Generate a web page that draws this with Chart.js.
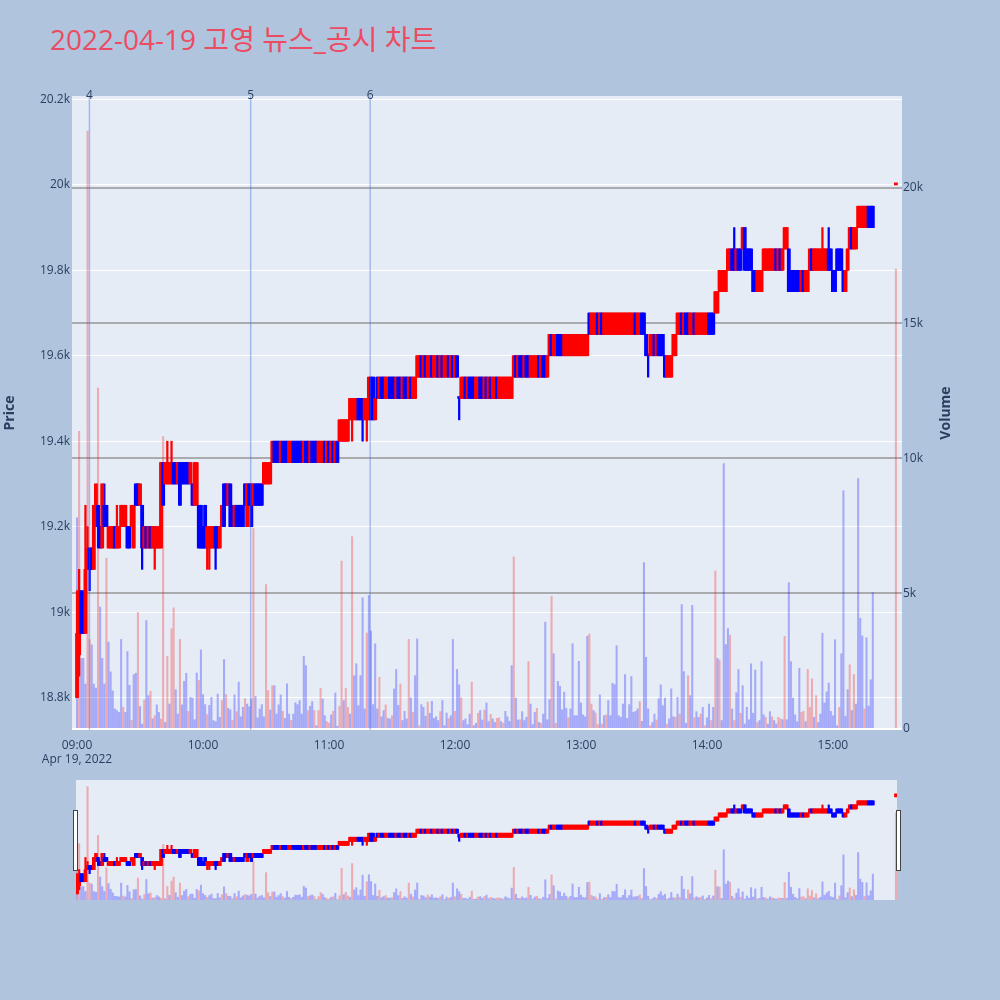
<!DOCTYPE html>
<html>
<head>
<meta charset="utf-8">
<script src="https://cdn.jsdelivr.net/npm/chart.js"></script>
<style>
  html, body { margin: 0; padding: 0; background: #b0c4de; }
  body { width: 1000px; height: 1000px; position: relative; overflow: hidden; font-family: "Open Sans", "Noto Sans CJK KR", sans-serif; }
  #title { position: absolute; left: 50px; top: 25px; font-size: 28px; line-height: 28px; color: #ec4c62; white-space: nowrap; }
  #main { position: absolute; left: 0; top: 0; width: 1000px; height: 775px; }
  #slider { position: absolute; left: 76px; top: 780px; width: 821px; height: 120px; background: #e5ecf6; }
  .handle { position: absolute; top: 810px; width: 5px; height: 61px; box-sizing: border-box; background: #fff; border: 1px solid #444; }
</style>
</head>
<body>
<div id="title">2022-04-19 고영 뉴스_공시 차트</div>
<div id="main"><canvas id="mainChart"></canvas></div>
<div id="slider"><canvas id="sliderChart"></canvas></div>
<div class="handle" style="left:73px"></div>
<div class="handle" style="left:896px"></div>
<script>
// one candle per minute from 09:00, last entry is the 15:30 closing auction
const sessionStart = '09:00';
const auctionTime = '15:30';
const dateLabel = 'Apr 19, 2022';

const timeTicks = ['09:00', '10:00', '11:00', '12:00', '13:00', '14:00', '15:00'];
const priceTicks = [18800, 19000, 19200, 19400, 19600, 19800, 20000, 20200];
const volumeTicks = [0, 5000, 10000, 15000, 20000];

const opens = [
  18800,18900,19050,19000,18950,19100,19150,19150,19100,19200,
  19250,19200,19150,19250,19250,19150,19150,19150,19200,19150,
  19150,19200,19200,19200,19200,19200,19200,19150,19300,19300,
  19250,19250,19150,19200,19150,19200,19150,19150,19150,19150,
  19150,19350,19300,19300,19300,19300,19350,19350,19300,19350,
  19350,19350,19350,19350,19300,19300,19250,19250,19250,19250,
  19200,19250,19150,19150,19150,19150,19200,19200,19150,19200,
  19300,19300,19250,19300,19250,19200,19250,19250,19250,19250,
  19300,19200,19300,19300,19250,19300,19300,19300,19300,19300,
  19300,19300,19300,19350,19400,19400,19400,19350,19400,19400,
  19400,19350,19350,19400,19400,19400,19400,19400,19350,19400,
  19400,19350,19400,19400,19400,19350,19350,19350,19400,19350,
  19400,19350,19400,19350,19400,19400,19400,19400,19400,19400,
  19450,19450,19450,19450,19500,19500,19500,19450,19450,19450,
  19550,19550,19450,19550,19500,19550,19550,19500,19500,19550,
  19550,19550,19500,19550,19550,19500,19550,19550,19500,19550,
  19500,19500,19550,19550,19600,19550,19600,19550,19550,19600,
  19550,19550,19600,19550,19600,19550,19550,19600,19550,19600,
  19550,19600,19500,19500,19500,19550,19500,19550,19550,19550,
  19500,19500,19550,19550,19500,19550,19500,19550,19500,19500,
  19550,19500,19500,19500,19500,19500,19500,19500,19550,19600,
  19550,19600,19600,19550,19600,19600,19550,19550,19550,19550,
  19600,19550,19600,19600,19550,19600,19650,19600,19600,19650,
  19650,19650,19600,19600,19600,19600,19600,19600,19600,19600,
  19600,19600,19600,19600,19700,19650,19650,19650,19700,19650,
  19700,19650,19650,19650,19650,19650,19650,19650,19650,19650,
  19650,19650,19650,19650,19650,19650,19700,19650,19650,19700,
  19700,19650,19600,19600,19600,19650,19600,19650,19650,19650,
  19600,19550,19550,19550,19600,19600,19650,19650,19700,19650,
  19700,19700,19650,19650,19700,19650,19650,19650,19650,19650,
  19650,19700,19700,19700,19700,19700,19750,19750,19750,19750,
  19800,19800,19850,19850,19800,19850,19850,19850,19900,19850,
  19850,19850,19800,19800,19750,19750,19750,19800,19800,19800,
  19800,19800,19800,19850,19800,19850,19800,19850,19850,19850,
  19800,19800,19800,19800,19800,19750,19800,19750,19750,19800,
  19850,19800,19800,19800,19800,19800,19800,19800,19850,19850,
  19800,19800,19850,19850,19850,19800,19750,19800,19850,19900,
  19850,19850,19900,19900,19900,19900,19900,19950,19950,19950,
  20000
];

const highs = [
  19050,19100,19050,19050,19250,19200,19150,19150,19250,19300,
  19250,19200,19300,19300,19250,19200,19200,19200,19200,19250,
  19200,19250,19250,19250,19200,19200,19250,19250,19300,19300,
  19300,19250,19200,19200,19200,19200,19200,19200,19200,19200,
  19350,19350,19350,19400,19350,19400,19350,19350,19350,19350,
  19350,19350,19350,19350,19350,19300,19350,19350,19250,19250,
  19200,19250,19200,19200,19200,19200,19200,19200,19200,19250,
  19300,19300,19300,19300,19250,19250,19250,19250,19250,19250,
  19300,19300,19300,19300,19300,19300,19300,19300,19300,19350,
  19350,19350,19350,19400,19400,19400,19400,19400,19400,19400,
  19400,19400,19400,19400,19400,19400,19400,19400,19400,19400,
  19400,19400,19400,19400,19400,19400,19400,19400,19400,19400,
  19400,19400,19400,19400,19400,19450,19450,19450,19450,19450,
  19500,19500,19500,19500,19500,19500,19500,19500,19500,19550,
  19550,19550,19500,19550,19550,19550,19550,19550,19550,19550,
  19550,19550,19550,19550,19550,19550,19550,19550,19550,19550,
  19550,19550,19600,19600,19600,19600,19600,19600,19600,19600,
  19600,19600,19600,19600,19600,19600,19600,19600,19600,19600,
  19600,19600,19500,19550,19550,19550,19550,19550,19550,19550,
  19550,19550,19550,19550,19550,19550,19550,19550,19550,19550,
  19550,19550,19550,19550,19550,19550,19550,19550,19600,19600,
  19600,19600,19600,19600,19600,19600,19600,19600,19600,19600,
  19600,19600,19600,19600,19600,19650,19650,19650,19650,19650,
  19650,19650,19650,19650,19650,19650,19650,19650,19650,19650,
  19650,19650,19650,19650,19700,19700,19700,19700,19700,19700,
  19700,19700,19700,19700,19700,19700,19700,19700,19700,19700,
  19700,19700,19700,19700,19700,19700,19700,19700,19700,19700,
  19700,19650,19600,19650,19650,19650,19650,19650,19650,19650,
  19600,19600,19600,19600,19650,19650,19700,19700,19700,19700,
  19700,19700,19700,19700,19700,19700,19700,19700,19700,19700,
  19700,19700,19700,19700,19750,19750,19800,19800,19800,19800,
  19850,19850,19850,19900,19850,19850,19850,19900,19900,19850,
  19850,19850,19800,19800,19800,19800,19800,19850,19850,19850,
  19850,19850,19850,19850,19850,19850,19850,19900,19900,19850,
  19800,19800,19800,19800,19800,19800,19800,19800,19800,19850,
  19850,19850,19850,19850,19850,19900,19850,19850,19900,19850,
  19800,19800,19850,19850,19850,19800,19800,19850,19900,19900,
  19900,19900,19950,19950,19950,19950,19950,19950,19950,19950,
  20000
];

const lows = [
  18800,18850,18950,18950,18950,19100,19050,19100,19100,19200,
  19150,19150,19150,19200,19200,19150,19150,19150,19150,19150,
  19150,19200,19200,19200,19150,19150,19200,19150,19250,19250,
  19250,19100,19150,19150,19150,19150,19150,19100,19150,19150,
  19150,19250,19300,19300,19300,19300,19300,19300,19300,19250,
  19300,19300,19300,19300,19300,19250,19250,19250,19150,19150,
  19150,19150,19100,19100,19150,19150,19100,19150,19150,19200,
  19200,19250,19250,19200,19200,19200,19200,19200,19200,19200,
  19250,19200,19250,19200,19250,19250,19250,19250,19250,19300,
  19300,19300,19300,19350,19350,19350,19350,19350,19350,19350,
  19350,19350,19350,19350,19350,19350,19350,19350,19350,19350,
  19350,19350,19350,19350,19350,19350,19350,19350,19350,19350,
  19350,19350,19350,19350,19350,19400,19400,19400,19400,19400,
  19450,19400,19450,19450,19450,19450,19400,19450,19400,19450,
  19450,19450,19450,19500,19500,19500,19500,19500,19500,19500,
  19500,19500,19500,19500,19500,19500,19500,19500,19500,19500,
  19500,19500,19550,19550,19550,19550,19550,19550,19550,19550,
  19550,19550,19550,19550,19550,19550,19550,19550,19550,19550,
  19550,19550,19450,19500,19500,19500,19500,19500,19500,19500,
  19500,19500,19500,19500,19500,19500,19500,19500,19500,19500,
  19500,19500,19500,19500,19500,19500,19500,19500,19550,19550,
  19550,19550,19550,19550,19550,19550,19550,19550,19550,19550,
  19550,19550,19550,19550,19550,19600,19600,19600,19600,19600,
  19600,19600,19600,19600,19600,19600,19600,19600,19600,19600,
  19600,19600,19600,19600,19650,19650,19650,19650,19650,19650,
  19650,19650,19650,19650,19650,19650,19650,19650,19650,19650,
  19650,19650,19650,19650,19650,19650,19650,19650,19650,19650,
  19650,19600,19550,19600,19600,19600,19600,19600,19600,19600,
  19550,19550,19550,19550,19600,19600,19650,19650,19650,19650,
  19650,19650,19650,19650,19650,19650,19650,19650,19650,19650,
  19650,19650,19650,19650,19700,19700,19750,19750,19750,19750,
  19800,19800,19800,19800,19800,19800,19800,19850,19800,19800,
  19800,19800,19750,19750,19750,19750,19750,19800,19800,19800,
  19800,19800,19800,19800,19800,19800,19800,19850,19850,19750,
  19750,19750,19750,19750,19750,19750,19750,19750,19750,19800,
  19800,19800,19800,19800,19800,19800,19800,19800,19800,19800,
  19750,19750,19800,19800,19800,19750,19750,19800,19850,19850,
  19850,19850,19900,19900,19900,19900,19900,19900,19900,19900,
  20000
];

const closes = [
  18950,19050,18950,18950,19100,19150,19100,19100,19250,19300,
  19200,19150,19300,19200,19200,19200,19200,19200,19150,19200,
  19200,19250,19250,19250,19150,19150,19250,19250,19250,19250,
  19300,19150,19200,19150,19200,19150,19200,19200,19200,19200,
  19350,19250,19350,19350,19350,19350,19300,19300,19350,19250,
  19300,19300,19300,19300,19350,19250,19350,19350,19150,19150,
  19150,19150,19200,19200,19200,19200,19150,19150,19200,19250,
  19200,19250,19300,19200,19200,19250,19200,19200,19200,19200,
  19250,19300,19250,19200,19300,19250,19250,19250,19250,19350,
  19350,19350,19350,19400,19350,19350,19350,19400,19350,19350,
  19350,19400,19400,19350,19350,19350,19350,19350,19400,19350,
  19350,19400,19350,19350,19350,19400,19400,19400,19350,19400,
  19350,19400,19350,19400,19350,19450,19450,19450,19450,19450,
  19500,19500,19500,19500,19450,19450,19450,19500,19500,19550,
  19450,19450,19500,19500,19550,19500,19500,19550,19550,19500,
  19500,19500,19550,19500,19500,19550,19500,19500,19550,19500,
  19550,19550,19600,19600,19550,19600,19550,19600,19600,19550,
  19600,19600,19550,19600,19550,19600,19600,19550,19600,19550,
  19600,19550,19500,19550,19550,19500,19550,19500,19500,19500,
  19550,19550,19500,19500,19550,19500,19550,19500,19550,19550,
  19500,19550,19550,19550,19550,19550,19550,19550,19600,19550,
  19600,19550,19550,19600,19550,19550,19600,19600,19600,19600,
  19550,19600,19550,19550,19600,19650,19600,19650,19650,19600,
  19600,19600,19650,19650,19650,19650,19650,19650,19650,19650,
  19650,19650,19650,19650,19650,19700,19700,19700,19650,19700,
  19650,19700,19700,19700,19700,19700,19700,19700,19700,19700,
  19700,19700,19700,19700,19700,19700,19650,19700,19700,19650,
  19650,19600,19600,19650,19650,19600,19650,19600,19600,19600,
  19550,19600,19600,19600,19650,19650,19700,19700,19650,19700,
  19650,19650,19700,19700,19650,19700,19700,19700,19700,19700,
  19700,19650,19650,19650,19750,19750,19800,19800,19800,19800,
  19850,19850,19800,19800,19850,19800,19800,19900,19800,19800,
  19800,19800,19750,19750,19800,19800,19800,19850,19850,19850,
  19850,19850,19850,19800,19850,19800,19850,19900,19900,19750,
  19750,19750,19750,19750,19750,19800,19750,19800,19800,19850,
  19800,19850,19850,19850,19850,19850,19850,19850,19800,19800,
  19750,19750,19800,19800,19800,19750,19800,19850,19900,19850,
  19900,19900,19950,19950,19950,19950,19950,19900,19900,19900,
  20000
];

const volumes = [
  7800,11000,2600,2600,1650,22100,3300,3100,1650,1500,
  12600,4500,2600,1650,6300,3200,2100,1400,730,670,
  600,3300,790,600,2850,1600,300,2000,2050,4300,
  820,170,1060,4000,1220,1380,360,480,880,600,
  360,10800,230,2670,910,3700,4470,1440,540,3300,
  880,1750,2050,640,1160,1130,330,2060,1780,2910,
  1260,890,520,860,1160,300,260,1280,420,1040,
  2560,1260,750,700,300,1250,630,1720,440,790,
  1110,910,810,1100,7400,1190,400,730,890,440,
  5330,1410,690,1590,1590,540,880,1250,640,380,
  1660,540,300,540,960,890,1040,540,2670,2330,
  670,830,1000,670,110,670,1490,1100,480,260,
  210,510,640,1320,90,830,6200,1040,1490,790,
  540,7100,1960,2400,850,1960,4840,730,3540,4930,
  3610,890,3140,730,1900,440,670,880,380,360,
  480,1470,2190,860,1650,300,640,360,3300,1140,
  600,1960,3320,110,890,790,460,980,570,1010,
  380,440,300,630,1040,110,580,380,480,3300,
  640,2190,1620,1140,300,360,150,540,1720,110,
  200,570,670,320,690,950,260,530,360,230,
  380,400,260,200,640,440,270,2330,6350,1130,
  320,330,630,300,420,2480,910,150,600,750,
  230,200,540,3940,330,1080,4900,2770,200,1750,
  1570,700,1350,750,400,730,3140,480,480,2490,
  950,510,440,3420,3500,910,670,580,150,1250,
  170,480,510,1040,480,1680,1630,3070,480,420,
  910,2000,380,890,1930,600,640,730,1000,270,
  6140,2640,730,110,230,540,320,1110,1620,850,
  1130,170,360,1470,440,420,1160,540,4590,2110,
  200,1960,1220,4560,400,630,420,540,790,110,
  400,910,300,790,5830,2600,2540,300,9800,3110,
  3700,3460,730,300,1330,2190,570,1590,170,790,
  330,2400,570,2170,230,300,2480,510,420,170,
  630,440,300,170,420,360,330,3420,330,5400,
  2480,1130,510,260,2230,600,640,260,2190,790,
  1840,420,1220,230,540,3530,950,1360,1690,640,
  480,3290,110,790,2770,8800,460,1440,2360,670,
  2000,910,9250,4080,3430,730,3360,830,1810,5030,
  17000
];

// 1 = red volume bar, 0 = blue
const volumeUp = [
  0,1,0,0,0,1,1,0,0,0, 1,0,0,0,1,0,0,0,0,0, 0,0,1,0,0,0,1,0,0,1, 0,0,1,0,0,1,0,1,0,0,
  1,1,0,1,0,1,1,0,0,1, 0,0,0,1,0,0,0,0,1,0, 0,0,1,0,0,0,0,0,0,1, 0,1,0,0,1,0,1,0,0,0,
  1,0,0,0,1,0,0,0,0,0, 1,1,0,1,0,0,0,0,1,0, 0,0,1,0,0,0,0,0,0,0, 1,0,0,1,0,1,1,0,0,1,
  1,0,1,0,0,1,1,0,1,1, 0,1,0,0,0,0,0,0,1,0, 0,0,0,0,1,0,0,1,0,0, 1,0,0,0,1,0,0,0,1,0,
  1,0,0,1,0,0,0,1,0,0, 0,0,0,1,0,0,0,1,0,0, 1,0,0,1,0,0,0,0,1,0, 0,1,0,0,1,0,0,1,0,0,
  1,1,0,1,0,0,0,0,1,0, 0,1,0,0,0,1,0,0,0,1, 0,1,0,0,0,0,1,0,1,0, 0,0,0,0,1,0,0,0,0,0,
  0,0,0,0,1,1,0,1,1,0, 1,0,1,0,0,0,0,0,0,0, 0,0,0,0,0,0,0,0,1,0, 0,0,0,1,0,0,1,0,0,0,
  0,1,0,0,0,1,0,1,0,0, 0,1,0,0,1,0,0,1,0,1, 0,0,1,0,1,0,1,0,0,0, 0,1,0,1,0,0,1,0,0,0,
  0,0,0,0,1,0,0,0,1,0, 0,1,0,0,1,1,0,1,0,0, 0,0,0,0,0,1,1,0,1,1, 1,0,1,0,0,0,0,0,0,0,
  0,0,0,1,0,0,0,0,1,0, 1,0,0,0,0,1,0,0,0,0,
  1
];

const newsTimes = ['09:05:54', '10:22:42', '11:19:36'];
const newsLabels = ['4', '5', '6'];

const upColor = '#ff0000';
const downColor = '#0000ff';
const fontFamily = '"Open Sans", "Noto Sans CJK KR", sans-serif';
const textColor = '#2a3f5f';

Chart.defaults.font.family = fontFamily;
Chart.defaults.font.size = 12;
Chart.defaults.color = textColor;

function toMinutes(t) {
  const p = t.split(':').map(Number);
  const s = sessionStart.split(':').map(Number);
  return (p[0] - s[0]) * 60 + (p[1] - s[1]) + (p[2] || 0) / 60;
}

function clock(m) {
  const s = sessionStart.split(':').map(Number);
  const total = s[0] * 60 + s[1] + m;
  return String(Math.floor(total / 60)).padStart(2, '0') + ':' + String(Math.round(total % 60)).padStart(2, '0');
}

const last = opens.length - 1;
const xs = opens.map((_, i) => i === last ? toMinutes(auctionTime) : i);

function rising(i) {
  if (closes[i] !== opens[i]) return closes[i] > opens[i];
  return i > 0 && closes[i] > closes[i - 1];
}
const candleColors = xs.map((_, i) => rising(i) ? upColor : downColor);
const volumeColors = volumeUp.map(u => u ? 'rgba(255,0,0,0.28)' : 'rgba(0,0,255,0.28)');

function buildDatasets(bodyWidth, wickWidth, volWidth, minBody) {
  return [
    {
      label: 'body',
      data: xs.map((x, i) => ({ x: x, y: [opens[i], closes[i]] })),
      backgroundColor: candleColors,
      barThickness: bodyWidth,
      minBarLength: minBody,
      grouped: false,
      yAxisID: 'y',
      order: 1
    },
    {
      label: 'wick',
      data: xs.map((x, i) => ({ x: x, y: [lows[i], highs[i]] })),
      backgroundColor: candleColors,
      barThickness: wickWidth,
      grouped: false,
      yAxisID: 'y',
      order: 2
    },
    {
      label: 'volume',
      data: xs.map((x, i) => ({ x: x, y: volumes[i] })),
      backgroundColor: volumeColors,
      barThickness: volWidth,
      grouped: false,
      yAxisID: 'y2',
      order: 3
    }
  ];
}

const plotBackground = {
  id: 'plotBackground',
  beforeDraw(chart) {
    const { ctx, chartArea: a } = chart;
    ctx.save();
    ctx.fillStyle = '#e5ecf6';
    ctx.fillRect(a.left, a.top, a.right - a.left, a.bottom - a.top);
    ctx.restore();
  }
};

const newsMarkers = {
  id: 'newsMarkers',
  afterDatasetsDraw(chart) {
    const { ctx, chartArea: a, scales } = chart;
    ctx.save();
    newsTimes.forEach((t, i) => {
      const px = scales.x.getPixelForValue(toMinutes(t));
      ctx.strokeStyle = 'rgba(65,105,225,0.4)';
      ctx.lineWidth = 1.5;
      ctx.beginPath();
      ctx.moveTo(px, a.top);
      ctx.lineTo(px, a.bottom);
      ctx.stroke();
      ctx.fillStyle = textColor;
      ctx.font = '12px ' + fontFamily;
      ctx.textAlign = 'center';
      ctx.textBaseline = 'middle';
      ctx.fillText(newsLabels[i], px, a.top);
    });
    ctx.restore();
  },
  afterDraw(chart) {
    // right axis title, rotated the same way as the left one
    const { ctx, chartArea: a } = chart;
    ctx.save();
    ctx.translate(946, (a.top + a.bottom) / 2);
    ctx.rotate(-Math.PI / 2);
    ctx.fillStyle = textColor;
    ctx.font = 'bold 14px ' + fontFamily;
    ctx.textAlign = 'center';
    ctx.textBaseline = 'middle';
    ctx.fillText('Volume', 0, 0);
    ctx.restore();
  }
};

const priceMin = 18724, priceMax = 20208;
const volMin = -50, volMax = 23400;

new Chart(document.getElementById('mainChart'), {
  type: 'bar',
  data: { datasets: buildDatasets(3.2, 1.6, 1.4, 2) },
  options: {
    responsive: true,
    maintainAspectRatio: false,
    animation: false,
    events: [],
    layout: { padding: { left: 0, right: 42, top: 96, bottom: 0 } },
    plugins: { legend: { display: false }, tooltip: { enabled: false } },
    scales: {
      x: {
        type: 'linear', min: -2.4, max: 392.9, offset: false,
        grid: { display: false }, border: { display: false },
        afterBuildTicks: s => { s.ticks = timeTicks.map(t => ({ value: toMinutes(t) })); },
        ticks: {
          autoSkip: false, maxRotation: 0, padding: 0,
          callback: v => v === 0 ? [clock(v), dateLabel] : clock(v)
        },
        afterFit: s => { s.height = 45; }
      },
      y: {
        type: 'linear', position: 'left', min: priceMin, max: priceMax,
        grid: { color: '#ffffff', lineWidth: 1, drawTicks: false }, border: { display: false },
        afterBuildTicks: s => { s.ticks = priceTicks.map(v => ({ value: v })); },
        ticks: { padding: 2, callback: v => (Math.round(v / 100) / 10) + 'k' },
        title: { display: true, text: 'Price', color: textColor, font: { size: 14, weight: 'bold' }, padding: 2 },
        afterFit: s => { s.width = 72; }
      },
      y2: {
        type: 'linear', position: 'right', min: volMin, max: volMax,
        grid: {
          color: c => c.tick && c.tick.value === 0 ? '#ffffff' : 'rgba(128,128,128,0.6)',
          lineWidth: 2, drawTicks: false
        },
        border: { display: false },
        afterBuildTicks: s => { s.ticks = volumeTicks.map(v => ({ value: v })); },
        ticks: { padding: 1, callback: v => v === 0 ? '0' : (v / 1000) + 'k' },
        afterFit: s => { s.width = 56; }
      }
    }
  },
  plugins: [plotBackground, newsMarkers]
});

new Chart(document.getElementById('sliderChart'), {
  type: 'bar',
  data: { datasets: buildDatasets(3, 1.5, 1.4, 3) },
  options: {
    responsive: true,
    maintainAspectRatio: false,
    animation: false,
    events: [],
    layout: { padding: 0 },
    plugins: { legend: { display: false }, tooltip: { enabled: false } },
    scales: {
      x: { type: 'linear', min: -0.5, max: 390.5, offset: false, display: false },
      y: { type: 'linear', min: priceMin, max: priceMax, display: false },
      y2: { type: 'linear', min: 0, max: volMax, display: false }
    }
  }
});
</script>
</body>
</html>
